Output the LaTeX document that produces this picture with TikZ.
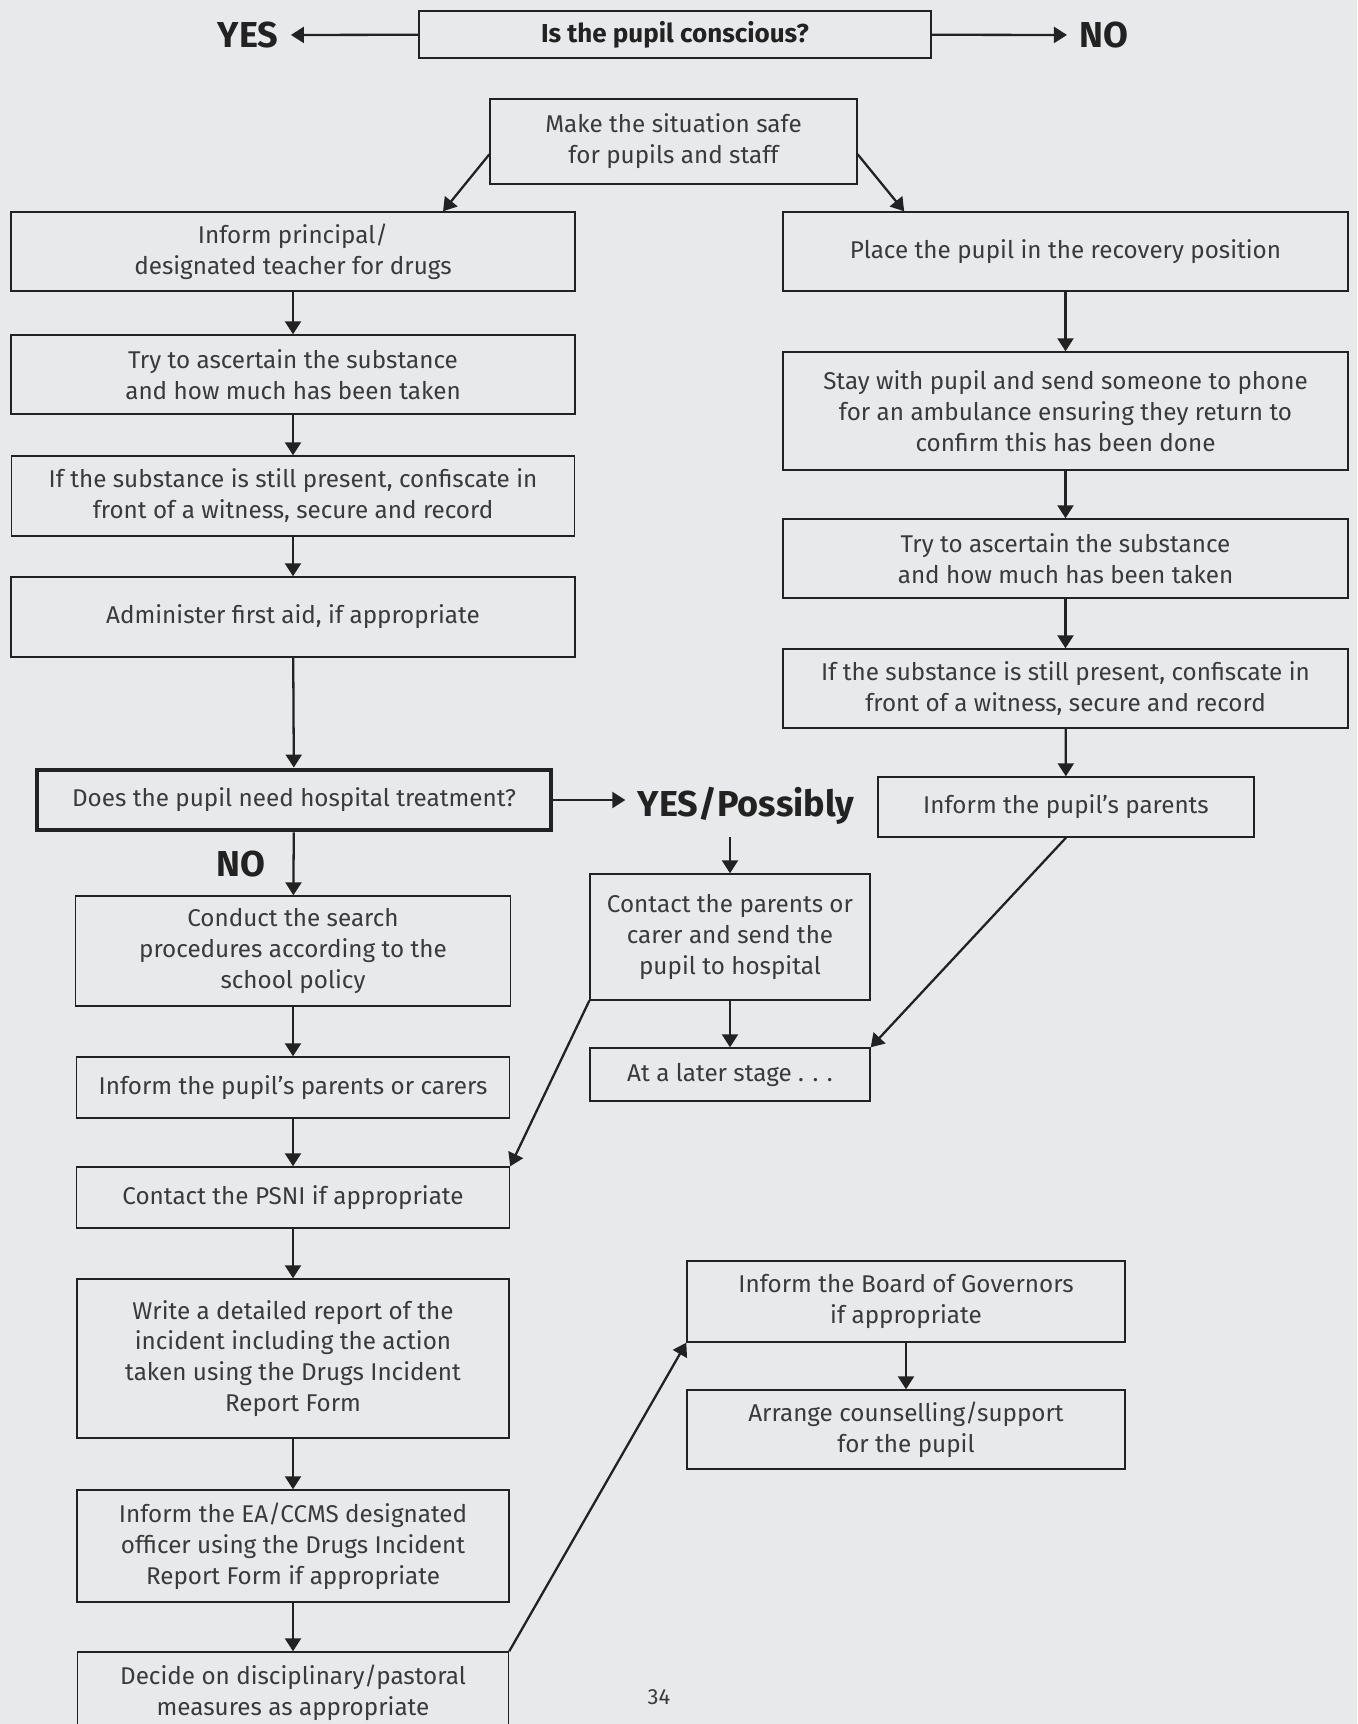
\documentclass[tikz,border=0pt]{standalone}
\usepackage{fontspec}
\setmainfont{Fira Sans}
\usepackage{tikz}
\usetikzlibrary{positioning,arrows.meta,calc}
\definecolor{ink}{HTML}{222222}
\definecolor{txt}{HTML}{3A3A3A}
\definecolor{paper}{HTML}{E8E9EB}
\tikzset{
  box/.style={rectangle,draw=ink,line width=0.8pt,fill=paper,align=center,
    text=txt,font=\fontsize{13.8}{17.6}\selectfont,inner sep=2pt},
  ask/.style={box,line width=2.8pt},
  sz/.style 2 args={minimum width=#1*0.02cm,minimum height=#2*0.02cm},
  lbl/.style={text=ink,font=\fontsize{20.5}{24}\selectfont\bfseries,inner sep=7pt},
  fl/.style={-{Triangle[length=2.6mm,width=3.2mm]},draw=ink,line width=1.3pt},
}
\begin{document}
\begin{tikzpicture}[x=0.02cm,y=-0.02cm]
  \useasboundingbox (0,0) rectangle (1357,1724);
  \clip (0,0) rectangle (1357,1724);
  \fill[paper] (0,0) rectangle (1357,1724);
  % question and the two answers
  \node[box,sz={512}{47},line width=1.1pt,text=ink,
    font=\fontsize{14.8}{17}\selectfont\bfseries] (q) at (675,34.5) {Is the pupil conscious?};
  \node[lbl] (yes) at (248,35) {YES};
  \node[lbl] (no) at (1104,35) {NO};
  \node[box,sz={367}{85}] (safe) at (673.5,141.5) {Make the situation safe\\for pupils and staff};
  % conscious: left column
  \node[box,sz={564}{79}] (prin) at (293,251.5) {Inform principal/\\designated teacher for drugs};
  \node[box,sz={564}{79}] (asc) at (293,374.5) {Try to ascertain the substance\\and how much has been taken};
  \node[box,sz={563}{80}] (conf) at (293,496) {If the substance is still present, confiscate in\\front of a witness, secure and record};
  \node[box,sz={564}{80}] (aid) at (293,617) {Administer first aid, if appropriate};
  \node[ask,sz={514}{60}] (hosp) at (294,800) {Does the pupil need hospital treatment?};
  \node[lbl,inner sep=1pt] (no2) at (241,864) {NO};
  \node[box,sz={435}{110}] (srch) at (293,951) {Conduct the search\\procedures according to the\\school policy};
  \node[box,sz={433}{61}] (par) at (293,1087.5) {Inform the pupil’s parents or carers};
  \node[box,sz={433}{61}] (psni) at (293,1197.5) {Contact the PSNI if appropriate};
  \node[box,sz={432}{159}] (rep) at (293,1358.5) {Write a detailed report of the\\incident including the action\\taken using the Drugs Incident\\Report Form};
  \node[box,sz={432}{112}] (ea) at (293,1546) {Inform the EA/CCMS designated\\officer using the Drugs Incident\\Report Form if appropriate};
  \node[box,sz={431}{81}] (disc) at (293,1692.5) {Decide on disciplinary/pastoral\\measures as appropriate};
  % unconscious: right column
  \node[box,sz={565}{79}] (rec) at (1065.5,251.5) {Place the pupil in the recovery position};
  \node[box,sz={565}{118}] (amb) at (1065.5,411) {Stay with pupil and send someone to phone\\for an ambulance ensuring they return to\\confirm this has been done};
  \node[box,sz={565}{79}] (asc2) at (1065.5,558.5) {Try to ascertain the substance\\and how much has been taken};
  \node[box,sz={565}{79}] (conf2) at (1065.5,688.5) {If the substance is still present, confiscate in\\front of a witness, secure and record};
  \node[box,sz={376}{60}] (par2) at (1066,807) {Inform the pupil’s parents};
  % hospital branch
  \node[lbl] (yesp) at (746,806) {YES/Possibly};
  \node[box,sz={280}{126}] (send) at (730,937) {Contact the parents or\\carer and send the\\pupil to hospital};
  \node[box,sz={280}{53}] (later) at (730,1074.5) {At a later stage . . .};
  \node[box,sz={438}{81}] (gov) at (906,1301.5) {Inform the Board of Governors\\if appropriate};
  \node[box,sz={438}{79}] (csl) at (906,1429.5) {Arrange counselling/support\\for the pupil};
  \node[text=txt,font=\fontsize{12.5}{14}\selectfont] (pg) at (659,1697) {34};
  % connectors
  \draw[fl] (q) -- (yes); \draw[fl] (q) -- (no);
  \draw[fl] (safe.184) -- (prin.15); \draw[fl] (safe.356) -- (rec.166);
  \draw[fl] (prin) -- (asc); \draw[fl] (asc) -- (conf); \draw[fl] (conf) -- (aid);
  \draw[fl] (aid) -- (hosp); \draw[fl] (hosp) -- (srch); \draw[fl] (srch) -- (par);
  \draw[fl] (par) -- (psni); \draw[fl] (psni) -- (rep); \draw[fl] (rep) -- (ea);
  \draw[fl] (ea) -- (disc);
  \draw[fl] (rec) -- (amb); \draw[fl] (amb) -- (asc2); \draw[fl] (asc2) -- (conf2);
  \draw[fl] (conf2) -- (par2);
  \draw[fl] (hosp.east) -- (hosp.east -| yesp.west);
  \draw[fl] (send.north |- yesp.south) -- (send);
  \draw[fl] (send) -- (later);
  \draw[fl] (par2.south) -- (later.north east);
  \draw[fl] (send.south west) -- (psni.north east);
  \draw[fl] (disc.north east) -- (gov.south west);
  \draw[fl] (gov) -- (csl);
\end{tikzpicture}
\end{document}
